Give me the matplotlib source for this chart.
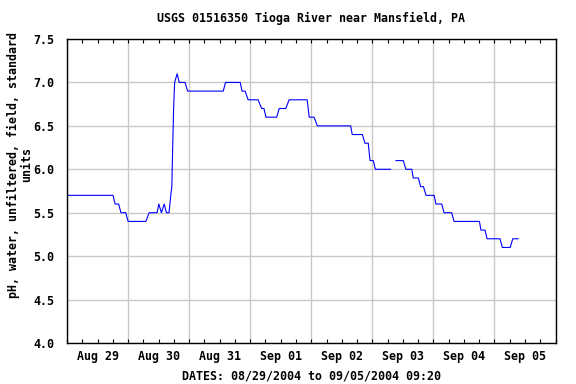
import numpy as np
import matplotlib
matplotlib.use("Agg")
import matplotlib.pyplot as plt
import matplotlib.dates as mdates
from matplotlib.ticker import FuncFormatter, MultipleLocator, NullFormatter

# Hours after 2004-08-29 00:00 and pH values (NaN marks the gap in the record)
HOURS = [0, 18.1, 18.9, 20.3, 21.2, 23.1, 24.0, 31.0, 32.3, 35.4, 36.1, 37.1,
         38.2, 39.1, 40.1, 40.8, 41.2, 41.5, 41.9, 42.3, 42.8, 43.3, 44.1,
         46.4, 47.4, 61.4, 62.3, 68.1, 68.8, 70.0, 71.2, 75.1, 76.5, 77.4,
         78.2, 82.4, 83.4, 86.0, 87.3, 94.4, 95.2, 97.1, 98.4, 111.5, 112.1,
         116.1, 117.1, 118.4, 119.1, 120.4, 121.2, 127.2, 128.2, 129.3,
         132.2, 133.2, 135.5, 136.1, 138.1, 139.0, 140.1, 141.1, 144.3,
         145.0, 147.3, 148.2, 151.2, 152.1, 162.1, 162.7, 164.3, 165.1,
         170.2, 171.1, 174.2, 175.2, 177.3]
PH = [5.7, 5.7, 5.6, 5.6, 5.5, 5.5, 5.4, 5.4, 5.5, 5.5, 5.6, 5.5,
      5.6, 5.5, 5.5, 5.7, 5.8, 6.2, 6.7, 7.0, 7.05, 7.1, 7.0,
      7.0, 6.9, 6.9, 7.0, 7.0, 6.9, 6.9, 6.8, 6.8, 6.7, 6.7,
      6.6, 6.6, 6.7, 6.7, 6.8, 6.8, 6.6, 6.6, 6.5, 6.5, 6.4,
      6.4, 6.3, 6.3, 6.1, 6.1, 6.0, 6.0, np.nan, 6.1,
      6.1, 6.0, 6.0, 5.9, 5.9, 5.8, 5.8, 5.7, 5.7,
      5.6, 5.6, 5.5, 5.5, 5.4, 5.4, 5.3, 5.3, 5.2,
      5.2, 5.1, 5.1, 5.2, 5.2]

START = np.datetime64("2004-08-29T00:00")
END = np.datetime64("2004-09-06T00:00")
TITLE = "USGS 01516350 Tioga River near Mansfield, PA"
YLABEL = "pH, water, unfiltered, field, standard\nunits"
XLABEL = "DATES: 08/29/2004 to 09/05/2004 09:20"

FONT = "DejaVu Sans Mono"

times = START + (np.array(HOURS) * 60).astype("timedelta64[m]")
times = times.astype("datetime64[ms]").astype(object)

fig = plt.figure(figsize=(5.76, 3.84), dpi=100)
ax = fig.add_axes([67 / 576, 1 - 343 / 384, 488.5 / 576, 304 / 384])

ax.plot(times, PH, color="#0000ff", linewidth=0.8)

ax.set_xlim(START.astype(object), END.astype(object))
ax.set_ylim(4.0, 7.5)

# grid at midnight, labels at noon, small ticks every 6 hours
ax.xaxis.set_major_locator(mdates.DayLocator())
ax.xaxis.set_major_formatter(NullFormatter())
ax.xaxis.set_minor_locator(mdates.HourLocator(byhour=[0, 6, 12, 18]))


def noon_label(x, pos):
    d = mdates.num2date(x)
    return d.strftime("%b %d") if d.hour == 12 else ""


ax.xaxis.set_minor_formatter(FuncFormatter(noon_label))
ax.yaxis.set_major_locator(MultipleLocator(0.5))
ax.yaxis.set_major_formatter(FuncFormatter(lambda v, p: f"{v:.1f}"))

ax.grid(True, which="major", color="#c8c8c8", linewidth=1.0)
ax.set_axisbelow(True)
ax.tick_params(axis="x", which="both", direction="in", top=True, length=3,
               width=0.8, pad=5, labelsize=8.4)
ax.tick_params(axis="y", which="both", direction="in", right=True, length=0,
               pad=9, labelsize=8.4)
for lab in ax.get_xticklabels(which="both") + ax.get_yticklabels():
    lab.set_family(FONT)
    lab.set_fontweight("bold")

for sp in ax.spines.values():
    sp.set_color("black")
    sp.set_linewidth(1.0)

fig.text(311 / 576, 1 - 18 / 384, TITLE, ha="center", va="center",
         family=FONT, fontweight="bold", fontsize=8.4)
fig.text(311 / 576, 1 - 376 / 384, XLABEL, ha="center", va="center",
         family=FONT, fontweight="bold", fontsize=8.4)
fig.text(20 / 576, 1 - 165 / 384, YLABEL, ha="center", va="center",
         rotation=90, multialignment="center", linespacing=1.0,
         family=FONT, fontweight="bold", fontsize=8.4)

fig.savefig("out.png", dpi=100, facecolor="white")
